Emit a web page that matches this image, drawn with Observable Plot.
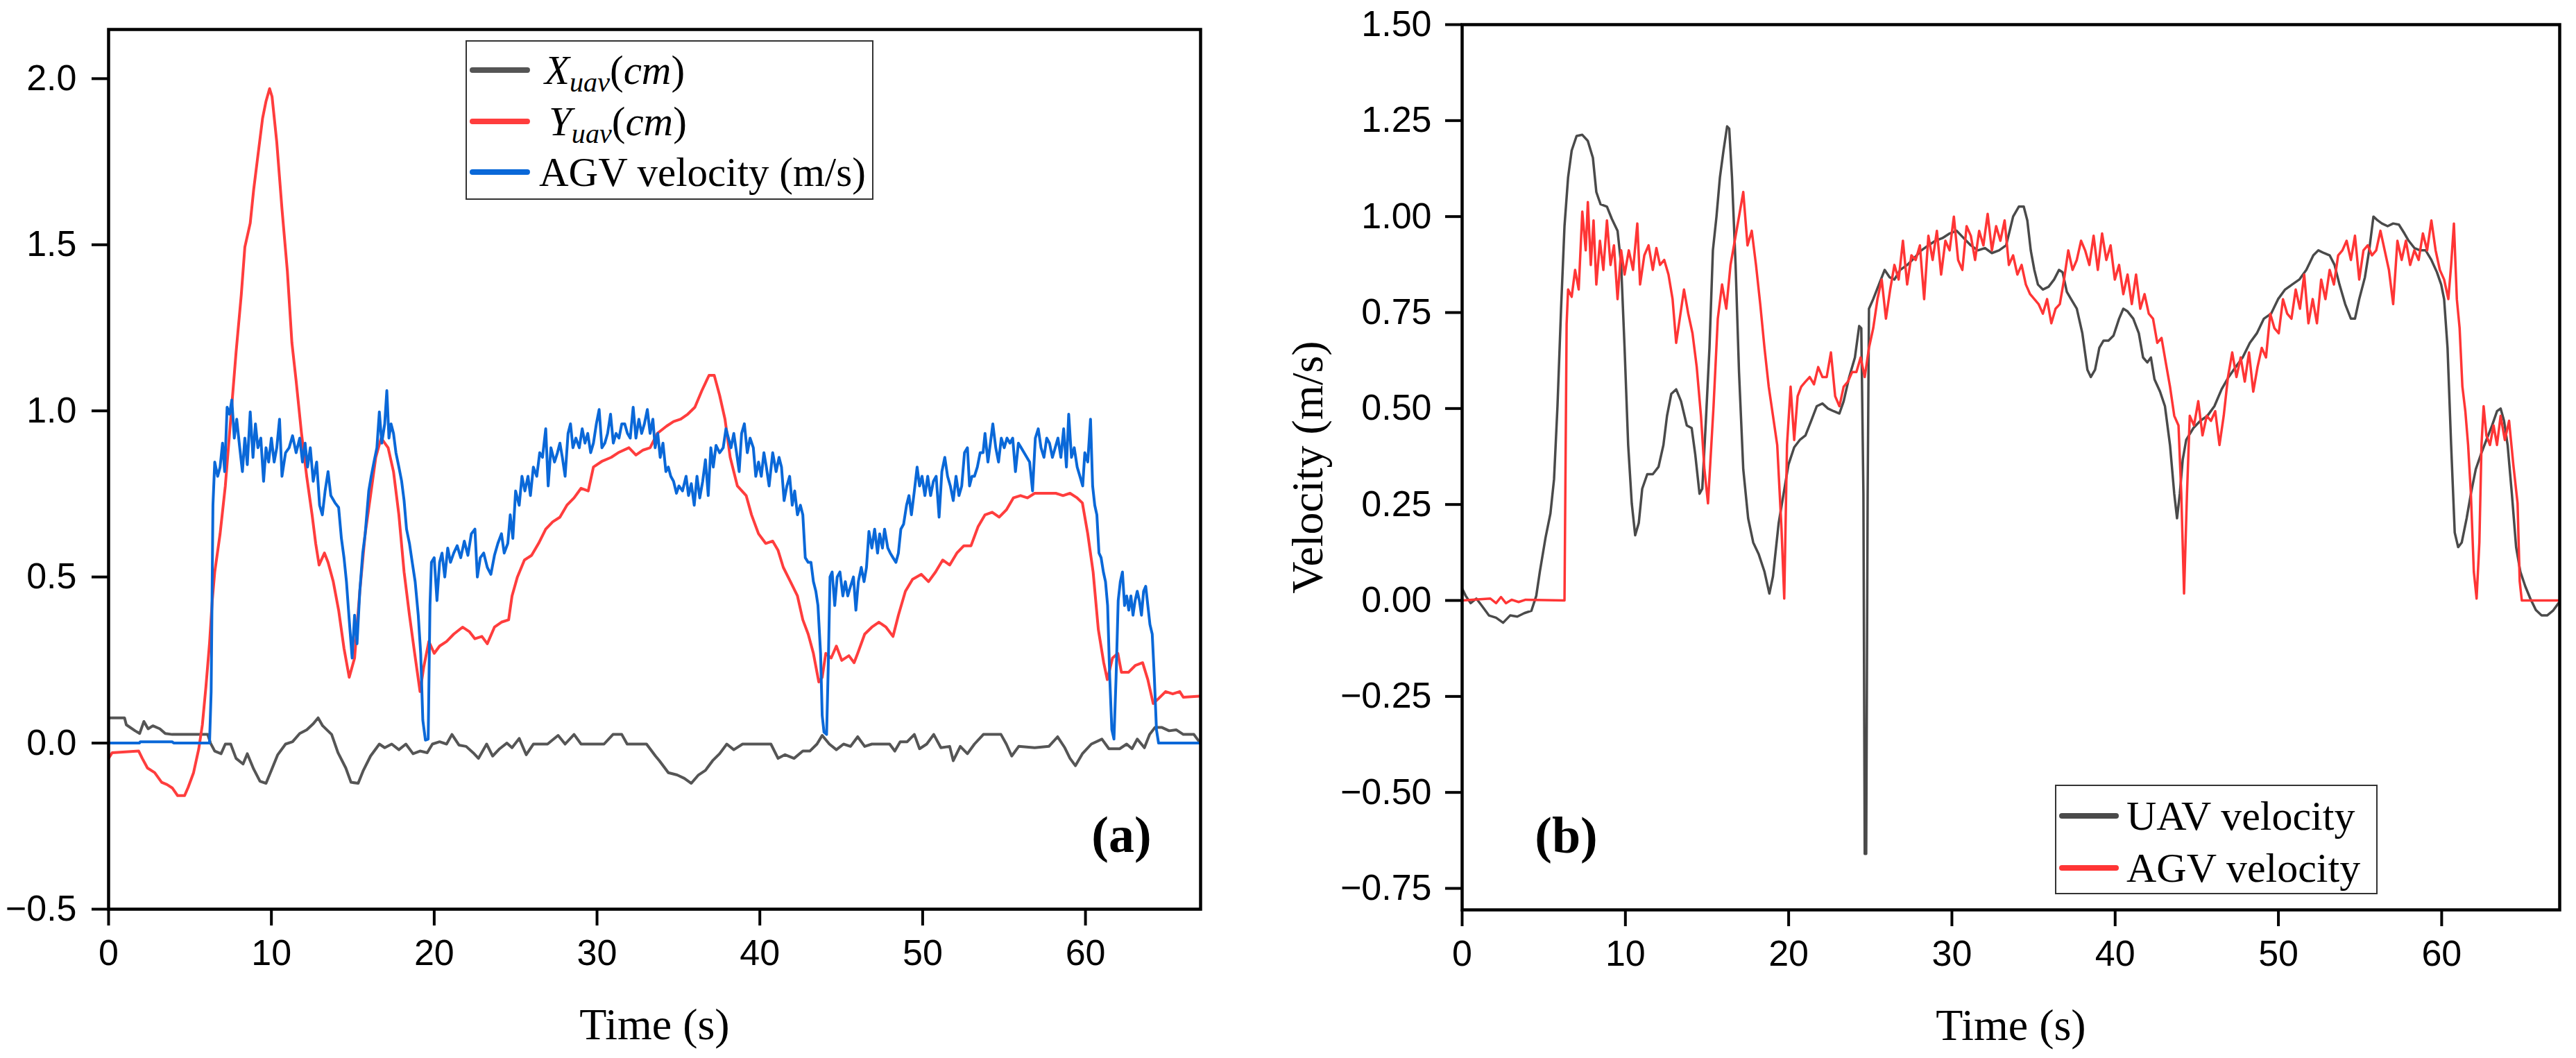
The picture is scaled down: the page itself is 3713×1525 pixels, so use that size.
<!DOCTYPE html>
<html>
<head>
<meta charset="utf-8">
<script src="https://cdn.jsdelivr.net/npm/d3@7"></script>
<script src="https://cdn.jsdelivr.net/npm/@observablehq/plot@0.6"></script>
<style>
  html, body { margin: 0; padding: 0; background: #ffffff; }
  #page { position: relative; width: 3713px; height: 1525px; background: #ffffff; overflow: hidden; }
  .panel { position: absolute; top: 0; }
  .legend { position: absolute; border: 2px solid #333; background: #fff; box-sizing: border-box; font-family: "Liberation Serif", "Times New Roman", serif; color: #000; }
  .row { position: absolute; left: 0; right: 0; height: 70px; }
  .swatch { position: absolute; height: 8px; border-radius: 4px; top: 31px; }
  .lbl { position: absolute; top: 0; height: 70px; line-height: 70px; white-space: nowrap; }
  .lbl sub { font-size: 0.68em; vertical-align: -0.28em; line-height: 0; }
</style>
</head>
<body>
<div id="page">
  <div id="panelA" class="panel" style="left:0px;width:1856px;"></div>
  <div id="panelB" class="panel" style="left:1856px;width:1857px;"></div>
</div>
<script>
// ---------- tick values ----------
const timeTicks = [0, 10, 20, 30, 40, 50, 60];
const yTicksA = [-0.5, 0, 0.5, 1.0, 1.5, 2.0];
const yTicksB = [-0.75, -0.5, -0.25, 0, 0.25, 0.5, 0.75, 1.0, 1.25, 1.5];

// ---------- legend entries ----------
const seriesNamesA = ["X_uav(cm)", "Y_uav(cm)", "AGV velocity (m/s)"];
const seriesColorsA = ["#555555", "#ff3d3d", "#0a68d8"];
const seriesNamesB = ["UAV velocity", "AGV velocity"];
const seriesColorsB = ["#4a4a4a", "#ff3535"];

// ---------- panel (a): [time s, value] ----------
const xUav = [[0,0.076],[0.98,0.076],[1.09,0.055],[1.63,0.037],[1.91,0.029],[2.17,0.065],[2.43,0.043],[2.72,0.052],[3.15,0.043],[3.48,0.029],[3.91,0.026],[6.09,0.026],[6.26,0],[6.52,-0.024],[6.91,-0.032],[7.17,-0.003],[7.5,-0.003],[7.83,-0.046],[8.26,-0.063],[8.52,-0.032],[8.91,-0.078],[9.3,-0.115],[9.67,-0.121],[10.0,-0.082],[10.39,-0.035],[10.87,-0.003],[11.3,0.004],[11.74,0.029],[12.17,0.04],[12.57,0.058],[12.87,0.076],[13.15,0.052],[13.7,0.026],[14.09,-0.029],[14.57,-0.075],[14.89,-0.118],[15.33,-0.121],[15.65,-0.082],[16.09,-0.039],[16.63,-0.003],[16.96,-0.014],[17.39,-0.003],[17.83,-0.02],[18.26,-0.003],[18.7,-0.032],[19.13,-0.024],[19.57,-0.029],[19.89,-0.003],[20.33,0.004],[20.76,-0.003],[21.09,0.026],[21.52,-0.006],[21.96,-0.01],[22.39,-0.029],[22.72,-0.046],[23.22,-0.003],[23.59,-0.039],[24.02,-0.017],[24.46,0],[24.78,-0.014],[25.22,0.014],[25.65,-0.035],[26.09,-0.003],[26.96,-0.003],[27.61,0.023],[28.04,-0.003],[28.59,0.026],[29.02,-0.003],[30.43,-0.003],[30.98,0.026],[31.52,0.026],[31.85,-0.003],[33.04,-0.003],[33.59,-0.039],[33.83,-0.053],[34.38,-0.089],[34.92,-0.096],[35.36,-0.106],[35.79,-0.121],[36.23,-0.096],[36.66,-0.082],[37.1,-0.053],[37.53,-0.032],[37.97,-0.003],[38.4,-0.02],[38.94,-0.003],[40.68,-0.003],[41.12,-0.046],[41.55,-0.035],[42.1,-0.046],[42.64,-0.024],[43.07,-0.024],[43.51,-0.003],[43.83,0.023],[44.27,-0.003],[44.7,-0.02],[45.14,-0.003],[45.57,-0.01],[46.01,0.019],[46.44,-0.01],[46.88,-0.003],[47.97,-0.003],[48.29,-0.024],[48.62,0.004],[49.05,0.004],[49.49,0.026],[49.81,-0.017],[50.25,-0.003],[50.68,0.026],[51.12,-0.014],[51.66,-0.01],[51.88,-0.053],[52.31,-0.01],[52.75,-0.032],[53.18,-0.003],[53.73,0.026],[54.81,0.026],[55.14,-0.003],[55.47,-0.039],[55.9,-0.01],[56.88,-0.014],[57.75,-0.01],[58.29,0.019],[58.73,-0.014],[59.05,-0.046],[59.38,-0.068],[59.81,-0.032],[60.36,-0.003],[61.01,0.012],[61.44,-0.017],[62.1,-0.017],[62.53,-0.003],[62.86,-0.017],[63.18,0.012],[63.62,-0.014],[63.94,0.026],[64.27,0.047],[64.7,0.047],[65.14,0.037],[65.57,0.04],[66.01,0.026],[66.66,0.026],[66.99,0.004]];

const yUav = [[0,-0.046],[0.22,-0.029],[1.85,-0.024],[2.07,-0.046],[2.39,-0.075],[2.83,-0.089],[3.26,-0.118],[3.59,-0.125],[3.91,-0.135],[4.24,-0.158],[4.67,-0.158],[4.89,-0.133],[5.22,-0.089],[5.54,-0.017],[5.76,0.055],[5.98,0.17],[6.2,0.3],[6.37,0.43],[6.52,0.515],[6.85,0.63],[7.17,0.774],[7.5,0.975],[7.83,1.176],[8.15,1.349],[8.37,1.493],[8.7,1.565],[8.91,1.665],[9.13,1.752],[9.46,1.881],[9.67,1.932],[9.89,1.97],[10.04,1.946],[10.33,1.809],[10.65,1.608],[10.98,1.421],[11.26,1.205],[11.52,1.09],[11.85,0.932],[12.17,0.802],[12.5,0.687],[12.72,0.601],[12.93,0.536],[13.26,0.572],[13.48,0.544],[13.8,0.486],[14.13,0.4],[14.46,0.285],[14.78,0.198],[15.11,0.256],[15.43,0.457],[15.76,0.63],[16.09,0.745],[16.41,0.86],[16.74,0.918],[17.17,0.889],[17.5,0.817],[17.83,0.687],[18.15,0.515],[18.48,0.385],[18.8,0.27],[19.13,0.155],[19.35,0.227],[19.67,0.306],[20.0,0.27],[20.33,0.292],[20.76,0.306],[21.2,0.328],[21.74,0.349],[22.17,0.335],[22.5,0.314],[22.93,0.321],[23.26,0.299],[23.7,0.349],[24.13,0.364],[24.57,0.371],[24.78,0.443],[25.11,0.5],[25.54,0.551],[25.98,0.565],[26.41,0.601],[26.85,0.644],[27.28,0.666],[27.72,0.68],[28.15,0.716],[28.59,0.738],[29.02,0.767],[29.46,0.759],[29.78,0.831],[30.33,0.849],[30.87,0.86],[31.3,0.874],[31.96,0.889],[32.39,0.867],[32.83,0.882],[33.26,0.889],[33.7,0.932],[34.27,0.954],[34.7,0.968],[35.14,0.975],[35.57,0.99],[36.01,1.011],[36.44,1.061],[36.88,1.107],[37.2,1.107],[37.53,1.047],[37.86,0.975],[38.18,0.86],[38.62,0.774],[39.16,0.745],[39.49,0.687],[39.92,0.63],[40.36,0.601],[40.79,0.608],[41.12,0.58],[41.44,0.529],[41.88,0.486],[42.31,0.443],[42.64,0.371],[42.97,0.328],[43.29,0.27],[43.62,0.184],[43.83,0.198],[44.05,0.27],[44.38,0.256],[44.7,0.292],[45.03,0.249],[45.47,0.263],[45.79,0.242],[46.01,0.27],[46.44,0.328],[46.88,0.349],[47.31,0.364],[47.75,0.349],[48.18,0.321],[48.51,0.385],[48.94,0.457],[49.38,0.493],[49.92,0.508],[50.36,0.486],[50.79,0.515],[51.23,0.551],[51.66,0.536],[52.1,0.572],[52.53,0.594],[52.97,0.594],[53.4,0.651],[53.83,0.687],[54.27,0.695],[54.7,0.68],[55.14,0.702],[55.57,0.738],[56.01,0.745],[56.44,0.738],[56.88,0.752],[57.31,0.752],[57.75,0.752],[58.18,0.752],[58.62,0.745],[59.05,0.752],[59.49,0.738],[59.81,0.723],[60.14,0.63],[60.47,0.515],[60.79,0.342],[61.12,0.242],[61.34,0.191],[61.66,0.256],[61.99,0.27],[62.21,0.213],[62.64,0.213],[63.07,0.234],[63.51,0.242],[63.83,0.191],[64.16,0.119],[64.49,0.134],[64.92,0.155],[65.36,0.148],[65.79,0.155],[66.01,0.138],[66.99,0.141]];

const agvA = [[0,0],[1.9,0],[1.95,0.004],[3.9,0.004],[4.0,0],[6.2,0],[6.3,0.155],[6.41,0.716],[6.52,0.846],[6.7,0.803],[6.85,0.831],[7.0,0.903],[7.13,0.817],[7.28,1.011],[7.43,0.99],[7.57,1.033],[7.72,0.918],[7.87,0.975],[8.04,0.896],[8.22,0.817],[8.37,0.918],[8.52,0.838],[8.7,0.997],[8.87,0.86],[9.02,0.961],[9.17,0.889],[9.35,0.918],[9.52,0.788],[9.67,0.889],[9.83,0.846],[10.0,0.918],[10.17,0.846],[10.33,0.889],[10.5,0.975],[10.65,0.803],[10.87,0.874],[11.09,0.889],[11.3,0.925],[11.52,0.874],[11.74,0.918],[11.91,0.846],[12.07,0.903],[12.22,0.831],[12.39,0.889],[12.57,0.788],[12.78,0.846],[12.96,0.716],[13.13,0.687],[13.3,0.759],[13.48,0.817],[13.65,0.745],[13.91,0.723],[14.13,0.709],[14.3,0.616],[14.46,0.558],[14.61,0.486],[14.78,0.371],[14.96,0.256],[15.11,0.385],[15.26,0.299],[15.43,0.457],[15.61,0.572],[15.76,0.63],[15.98,0.759],[16.13,0.803],[16.3,0.846],[16.48,0.889],[16.63,0.997],[16.78,0.903],[16.96,0.961],[17.09,1.061],[17.22,0.918],[17.35,0.961],[17.5,0.932],[17.65,0.874],[17.83,0.831],[18.0,0.788],[18.15,0.73],[18.3,0.644],[18.48,0.601],[18.65,0.544],[18.83,0.486],[19.02,0.385],[19.17,0.27],[19.3,0.069],[19.46,0.009],[19.63,0.012],[19.74,0.414],[19.83,0.544],[20.0,0.558],[20.17,0.429],[20.33,0.544],[20.48,0.572],[20.65,0.5],[20.83,0.587],[21.0,0.544],[21.2,0.572],[21.41,0.594],[21.63,0.558],[21.85,0.608],[22.07,0.565],[22.28,0.63],[22.5,0.644],[22.65,0.5],[22.83,0.558],[23.04,0.572],[23.26,0.529],[23.48,0.508],[23.7,0.565],[23.91,0.601],[24.13,0.63],[24.3,0.572],[24.52,0.601],[24.67,0.687],[24.83,0.616],[25.0,0.759],[25.22,0.716],[25.39,0.803],[25.57,0.759],[25.76,0.803],[25.91,0.745],[26.09,0.831],[26.3,0.803],[26.48,0.874],[26.65,0.86],[26.85,0.946],[27.0,0.774],[27.17,0.889],[27.39,0.846],[27.57,0.874],[27.72,0.903],[27.87,0.86],[28.04,0.803],[28.22,0.932],[28.37,0.961],[28.52,0.889],[28.7,0.918],[28.91,0.889],[29.09,0.946],[29.26,0.903],[29.43,0.932],[29.61,0.874],[29.78,0.903],[29.96,0.961],[30.13,1.004],[30.3,0.889],[30.48,0.903],[30.65,0.932],[30.83,0.99],[31.0,0.903],[31.17,0.932],[31.35,0.918],[31.52,0.961],[31.7,0.961],[31.87,0.932],[32.04,0.918],[32.22,1.011],[32.39,0.918],[32.57,0.975],[32.74,0.932],[32.91,0.961],[33.09,1.004],[33.26,0.932],[33.43,0.975],[33.57,0.889],[33.73,0.932],[33.88,0.86],[34.05,0.903],[34.23,0.817],[34.38,0.831],[34.53,0.803],[34.7,0.788],[34.88,0.752],[35.03,0.774],[35.25,0.759],[35.47,0.803],[35.62,0.745],[35.79,0.781],[35.97,0.716],[36.14,0.803],[36.31,0.738],[36.49,0.788],[36.66,0.853],[36.83,0.745],[36.99,0.889],[37.14,0.831],[37.31,0.896],[37.53,0.874],[37.75,0.889],[37.92,0.946],[38.07,0.918],[38.23,0.889],[38.4,0.932],[38.57,0.874],[38.73,0.817],[38.88,0.932],[39.05,0.961],[39.23,0.874],[39.4,0.918],[39.6,0.889],[39.75,0.803],[39.92,0.846],[40.09,0.803],[40.25,0.874],[40.4,0.831],[40.57,0.774],[40.79,0.874],[41.0,0.817],[41.18,0.86],[41.33,0.831],[41.49,0.73],[41.66,0.774],[41.83,0.803],[41.99,0.716],[42.14,0.759],[42.31,0.687],[42.49,0.716],[42.64,0.687],[42.79,0.558],[42.97,0.544],[43.14,0.544],[43.29,0.486],[43.44,0.457],[43.57,0.414],[43.73,0.27],[43.83,0.083],[43.94,0.033],[44.1,0.026],[44.2,0.227],[44.31,0.5],[44.44,0.515],[44.6,0.414],[44.75,0.5],[44.92,0.515],[45.1,0.443],[45.25,0.486],[45.4,0.443],[45.57,0.472],[45.75,0.5],[45.9,0.4],[46.05,0.486],[46.23,0.529],[46.4,0.486],[46.55,0.529],[46.7,0.637],[46.88,0.587],[47.05,0.644],[47.23,0.572],[47.36,0.63],[47.53,0.587],[47.66,0.644],[47.86,0.587],[48.01,0.572],[48.18,0.558],[48.36,0.544],[48.51,0.572],[48.66,0.644],[48.83,0.659],[49.01,0.716],[49.16,0.745],[49.31,0.687],[49.49,0.759],[49.66,0.831],[49.81,0.774],[49.96,0.803],[50.14,0.745],[50.31,0.803],[50.49,0.745],[50.66,0.788],[50.83,0.803],[51.01,0.68],[51.18,0.817],[51.36,0.86],[51.53,0.803],[51.7,0.774],[51.88,0.73],[52.05,0.803],[52.23,0.745],[52.4,0.774],[52.57,0.874],[52.75,0.889],[52.88,0.774],[53.03,0.803],[53.18,0.803],[53.36,0.831],[53.53,0.874],[53.71,0.874],[53.83,0.932],[54.01,0.846],[54.16,0.903],[54.31,0.961],[54.49,0.889],[54.66,0.846],[54.83,0.918],[55.01,0.889],[55.18,0.918],[55.36,0.903],[55.53,0.918],[55.7,0.817],[55.88,0.903],[56.05,0.889],[56.23,0.874],[56.4,0.86],[56.57,0.846],[56.75,0.759],[56.92,0.918],[57.1,0.946],[57.27,0.889],[57.45,0.86],[57.62,0.918],[57.79,0.903],[57.97,0.86],[58.14,0.889],[58.31,0.918],[58.49,0.86],[58.66,0.946],[58.83,0.831],[58.97,0.99],[59.14,0.86],[59.31,0.889],[59.49,0.831],[59.66,0.803],[59.83,0.774],[59.96,0.874],[60.14,0.846],[60.31,0.975],[60.44,0.774],[60.57,0.716],[60.7,0.687],[60.83,0.572],[60.96,0.558],[61.1,0.515],[61.23,0.486],[61.36,0.414],[61.49,0.198],[61.62,0.04],[61.75,0.012],[61.88,0.198],[62.01,0.429],[62.14,0.486],[62.27,0.515],[62.4,0.414],[62.53,0.443],[62.66,0.4],[62.79,0.443],[62.92,0.385],[63.05,0.429],[63.18,0.457],[63.31,0.429],[63.44,0.385],[63.57,0.457],[63.7,0.472],[63.83,0.414],[63.96,0.357],[64.1,0.328],[64.23,0.198],[64.36,0.04],[64.49,0],[66.99,0]];

// ---------- panel (b): [time s, velocity m/s] ----------
const uavVel = [[0,0.031],[0.22,0.012],[0.52,-0.007],[0.87,0.005],[1.21,-0.014],[1.64,-0.039],[2.08,-0.045],[2.51,-0.058],[2.94,-0.039],[3.38,-0.042],[3.81,-0.033],[4.24,-0.027],[4.54,0.012],[4.76,0.075],[5.11,0.164],[5.41,0.227],[5.63,0.316],[5.84,0.506],[6.06,0.76],[6.27,0.975],[6.49,1.102],[6.71,1.172],[7.01,1.21],[7.36,1.213],[7.7,1.197],[8.01,1.153],[8.22,1.064],[8.48,1.032],[8.87,1.026],[9.17,0.994],[9.52,0.963],[9.74,0.874],[9.95,0.658],[10.17,0.405],[10.39,0.253],[10.6,0.17],[10.82,0.202],[11.03,0.291],[11.34,0.329],[11.68,0.329],[12.03,0.348],[12.33,0.405],[12.55,0.481],[12.81,0.538],[13.11,0.55],[13.41,0.519],[13.76,0.456],[14.06,0.449],[14.28,0.38],[14.54,0.278],[14.71,0.291],[14.93,0.468],[15.15,0.658],[15.36,0.912],[15.58,1.0],[15.79,1.102],[16.01,1.172],[16.23,1.235],[16.36,1.229],[16.53,1.102],[16.75,0.874],[16.96,0.595],[17.22,0.342],[17.52,0.214],[17.83,0.151],[18.17,0.12],[18.52,0.075],[18.82,0.018],[19.04,0.063],[19.39,0.202],[19.69,0.278],[19.99,0.354],[20.34,0.399],[20.68,0.418],[21.03,0.43],[21.38,0.468],[21.72,0.506],[22.07,0.513],[22.41,0.5],[22.76,0.493],[23.11,0.487],[23.37,0.519],[23.71,0.582],[24.06,0.633],[24.32,0.715],[24.45,0.709],[24.58,0.278],[24.66,-0.66],[24.75,-0.66],[24.84,0.278],[24.92,0.76],[25.18,0.785],[25.53,0.823],[25.88,0.861],[26.18,0.842],[26.48,0.836],[26.83,0.861],[27.26,0.874],[27.69,0.892],[28.13,0.912],[28.56,0.925],[28.99,0.937],[29.42,0.944],[29.86,0.956],[30.29,0.963],[30.72,0.944],[31.16,0.925],[31.59,0.912],[32.02,0.918],[32.45,0.905],[32.89,0.912],[33.32,0.925],[33.54,0.963],[33.75,1.0],[34.1,1.026],[34.4,1.026],[34.62,0.99],[34.83,0.912],[35.05,0.861],[35.27,0.823],[35.57,0.81],[35.92,0.817],[36.26,0.836],[36.56,0.861],[36.78,0.855],[37.04,0.804],[37.3,0.785],[37.65,0.76],[37.99,0.696],[38.3,0.601],[38.51,0.582],[38.77,0.601],[39.03,0.658],[39.29,0.677],[39.59,0.677],[39.9,0.69],[40.24,0.734],[40.5,0.76],[40.76,0.753],[41.11,0.734],[41.45,0.696],[41.71,0.633],[41.97,0.62],[42.19,0.633],[42.41,0.576],[42.75,0.544],[43.05,0.506],[43.36,0.405],[43.62,0.278],[43.79,0.214],[43.96,0.278],[44.14,0.367],[44.35,0.418],[44.79,0.449],[45.22,0.468],[45.65,0.481],[46.08,0.506],[46.52,0.55],[46.95,0.582],[47.38,0.608],[47.81,0.633],[48.25,0.671],[48.68,0.696],[49.11,0.734],[49.55,0.747],[49.98,0.785],[50.41,0.81],[50.84,0.823],[51.28,0.836],[51.71,0.861],[52.14,0.899],[52.45,0.912],[52.79,0.905],[53.14,0.899],[53.44,0.874],[53.74,0.823],[54.09,0.772],[54.44,0.734],[54.69,0.734],[54.95,0.785],[55.3,0.842],[55.56,0.912],[55.82,1.0],[56.08,0.99],[56.34,0.982],[56.69,0.975],[57.03,0.982],[57.38,0.979],[57.72,0.956],[57.98,0.937],[58.33,0.918],[58.68,0.912],[59.02,0.912],[59.37,0.887],[59.71,0.855],[59.97,0.823],[60.15,0.785],[60.36,0.658],[60.58,0.405],[60.8,0.177],[61.01,0.139],[61.23,0.151],[61.53,0.214],[61.79,0.278],[62.09,0.342],[62.4,0.38],[62.74,0.418],[63.09,0.456],[63.39,0.493],[63.61,0.5],[63.82,0.468],[64.04,0.405],[64.3,0.278],[64.56,0.139],[64.82,0.075],[65.12,0.037],[65.43,0.005],[65.77,-0.025],[66.12,-0.039],[66.46,-0.039],[66.81,-0.027],[67.16,-0.007]];

const agvVel = [[0,0],[1.73,0.005],[2.08,-0.007],[2.38,0.009],[2.68,-0.007],[3.03,0.002],[3.46,-0.004],[3.89,0.002],[6.27,0],[6.4,0.72],[6.49,0.81],[6.71,0.791],[6.92,0.861],[7.14,0.81],[7.36,1.013],[7.57,0.912],[7.7,1.038],[7.88,0.874],[8.05,0.99],[8.22,0.823],[8.44,0.937],[8.65,0.861],[8.87,0.99],[9.09,0.874],[9.3,0.925],[9.52,0.785],[9.74,0.912],[9.95,0.849],[10.21,0.912],[10.47,0.861],[10.73,0.982],[10.9,0.823],[11.16,0.899],[11.42,0.925],[11.68,0.861],[11.9,0.918],[12.12,0.874],[12.38,0.887],[12.64,0.849],[12.89,0.785],[13.11,0.671],[13.33,0.734],[13.59,0.81],[13.85,0.747],[14.11,0.696],[14.37,0.608],[14.63,0.481],[14.84,0.342],[15.06,0.253],[15.23,0.38],[15.4,0.506],[15.66,0.734],[15.92,0.823],[16.18,0.76],[16.44,0.874],[16.7,0.937],[16.96,1.0],[17.22,1.064],[17.48,0.925],[17.74,0.963],[18.0,0.874],[18.26,0.772],[18.52,0.658],[18.78,0.557],[19.04,0.481],[19.3,0.405],[19.56,0.189],[19.73,0.005],[19.9,0.405],[20.12,0.557],[20.34,0.418],[20.55,0.532],[20.77,0.557],[21.03,0.57],[21.29,0.582],[21.55,0.563],[21.81,0.608],[22.07,0.582],[22.33,0.582],[22.59,0.646],[22.85,0.532],[23.11,0.506],[23.37,0.557],[23.63,0.57],[23.89,0.595],[24.15,0.595],[24.41,0.633],[24.66,0.582],[24.92,0.658],[25.18,0.709],[25.44,0.785],[25.7,0.836],[25.96,0.734],[26.22,0.81],[26.48,0.874],[26.74,0.836],[27.0,0.937],[27.26,0.823],[27.52,0.899],[27.78,0.887],[28.04,0.925],[28.3,0.785],[28.56,0.95],[28.82,0.887],[29.08,0.963],[29.34,0.849],[29.6,0.937],[29.86,0.912],[30.12,1.0],[30.38,0.887],[30.64,0.861],[30.9,0.975],[31.16,0.95],[31.42,0.887],[31.67,0.963],[31.93,0.925],[32.19,1.007],[32.45,0.912],[32.71,0.975],[32.97,0.937],[33.23,0.99],[33.49,0.874],[33.75,0.899],[34.01,0.849],[34.27,0.874],[34.53,0.823],[34.79,0.798],[35.05,0.785],[35.31,0.772],[35.57,0.747],[35.83,0.785],[36.09,0.722],[36.35,0.76],[36.61,0.772],[36.87,0.836],[37.13,0.912],[37.39,0.861],[37.65,0.887],[37.91,0.937],[38.16,0.912],[38.42,0.874],[38.68,0.95],[38.94,0.861],[39.2,0.956],[39.46,0.887],[39.72,0.925],[39.98,0.836],[40.24,0.874],[40.5,0.798],[40.76,0.849],[41.02,0.772],[41.28,0.849],[41.54,0.76],[41.8,0.798],[42.06,0.747],[42.32,0.734],[42.58,0.671],[42.84,0.684],[43.1,0.62],[43.36,0.557],[43.62,0.481],[43.88,0.456],[44.05,0.278],[44.22,0.018],[44.4,0.278],[44.57,0.481],[44.83,0.456],[45.09,0.519],[45.35,0.43],[45.61,0.481],[45.87,0.468],[46.13,0.493],[46.39,0.405],[46.65,0.481],[46.91,0.582],[47.17,0.646],[47.43,0.582],[47.69,0.633],[47.94,0.57],[48.2,0.646],[48.46,0.544],[48.72,0.608],[48.98,0.658],[49.24,0.633],[49.5,0.747],[49.76,0.709],[50.02,0.696],[50.28,0.785],[50.54,0.747],[50.8,0.734],[51.06,0.81],[51.32,0.76],[51.58,0.849],[51.84,0.722],[52.1,0.785],[52.36,0.722],[52.62,0.836],[52.88,0.785],[53.14,0.861],[53.4,0.823],[53.66,0.899],[53.92,0.912],[54.18,0.937],[54.44,0.887],[54.69,0.95],[54.95,0.836],[55.21,0.912],[55.47,0.925],[55.73,0.899],[55.99,0.912],[56.25,0.963],[56.51,0.912],[56.77,0.861],[57.03,0.772],[57.29,0.937],[57.55,0.887],[57.81,0.937],[58.07,0.874],[58.33,0.912],[58.59,0.887],[58.85,0.956],[59.11,0.912],[59.37,0.99],[59.63,0.912],[59.89,0.861],[60.15,0.836],[60.41,0.785],[60.58,0.874],[60.75,0.982],[60.93,0.785],[61.1,0.709],[61.27,0.557],[61.45,0.493],[61.62,0.405],[61.79,0.278],[61.97,0.075],[62.14,0.005],[62.31,0.151],[62.44,0.405],[62.57,0.506],[62.74,0.43],[62.96,0.405],[63.18,0.456],[63.39,0.405],[63.61,0.481],[63.87,0.418],[64.13,0.468],[64.39,0.354],[64.65,0.253],[64.78,0.05],[64.91,0],[67.2,0]];

// ---------- common styling ----------
const SANS = "'Liberation Sans', Arial, Helvetica, sans-serif";
const SERIF = "'Liberation Serif', 'Times New Roman', Times, serif";
const axisStyle = {fontFamily: SANS, fontSize: "52px", color: "#000", background: "transparent", overflow: "visible"};
const T = d => d[0], V = d => d[1];

// ---------- panel (a) ----------
const plotA = Plot.plot({
  width: 1856, height: 1525,
  marginLeft: 156, marginRight: 126, marginTop: 42, marginBottom: 215,
  style: axisStyle,
  x: {domain: [0, 67.07], label: null},
  y: {domain: [-0.5, 2.148], label: null},
  marks: [
    Plot.line(xUav, {x: T, y: V, stroke: seriesColorsA[0], strokeWidth: 4, clip: true}),
    Plot.line(yUav, {x: T, y: V, stroke: seriesColorsA[1], strokeWidth: 4, clip: true}),
    Plot.line(agvA, {x: T, y: V, stroke: seriesColorsA[2], strokeWidth: 4, clip: true}),
    Plot.frame({stroke: "#000", strokeWidth: 4.5}),
    Plot.axisX({ticks: timeTicks, tickSize: 24, tickPadding: 20, tickFormat: d => String(d), strokeWidth: 4, label: null}),
    Plot.axisY({ticks: yTicksA, tickSize: 24, tickPadding: 22, tickFormat: d3.format(".1f"), strokeWidth: 4, label: null}),
    Plot.text(["Time (s)"], {text: d => d, frameAnchor: "bottom", dy: 167, lineAnchor: "middle", fontFamily: SERIF, fontSize: 64}),
    Plot.text(["(a)"], {text: d => d, frameAnchor: "bottom-right", dx: -114, dy: -106, textAnchor: "middle", lineAnchor: "middle", fontFamily: SERIF, fontSize: 74, fontWeight: "bold"})
  ]
});
document.getElementById("panelA").appendChild(plotA);

// ---------- panel (b) ----------
const plotB = Plot.plot({
  width: 1857, height: 1525,
  marginLeft: 251, marginRight: 24, marginTop: 35, marginBottom: 214,
  style: axisStyle,
  x: {domain: [0, 67.23], label: null},
  y: {domain: [-0.806, 1.5], label: null},
  marks: [
    Plot.line(uavVel, {x: T, y: V, stroke: seriesColorsB[0], strokeWidth: 3.5, clip: true}),
    Plot.line(agvVel, {x: T, y: V, stroke: seriesColorsB[1], strokeWidth: 3.5, clip: true}),
    Plot.frame({stroke: "#000", strokeWidth: 4.5}),
    Plot.axisX({ticks: timeTicks, tickSize: 24, tickPadding: 20, tickFormat: d => String(d), strokeWidth: 4, label: null}),
    Plot.axisY({ticks: yTicksB, tickSize: 24, tickPadding: 20, tickFormat: d3.format(".2f"), strokeWidth: 4, label: null}),
    Plot.text(["Time (s)"], {text: d => d, frameAnchor: "bottom", dy: 167, lineAnchor: "middle", fontFamily: SERIF, fontSize: 64}),
    Plot.text(["Velocity (m/s)"], {text: d => d, frameAnchor: "left", dx: -222, rotate: -90, textAnchor: "middle", lineAnchor: "middle", fontFamily: SERIF, fontSize: 64}),
    Plot.text(["(b)"], {text: d => d, frameAnchor: "bottom-left", dx: 150, dy: -106, textAnchor: "middle", lineAnchor: "middle", fontFamily: SERIF, fontSize: 74, fontWeight: "bold"})
  ]
});
document.getElementById("panelB").appendChild(plotB);

// ---------- legends (HTML overlays) ----------
function mathLabel(name) {
  const m = name.match(/^([A-Z])_(\w+)\((\w+)\)$/);
  if (!m) return name;
  return `<i>${m[1]}</i><sub><i>${m[2]}</i></sub>(<i>${m[3]}</i>)`;
}
function legend(names, colors, box, rowCenters, swatchLeft, swatchWidth, textLeft, fontSize) {
  const el = document.createElement("div");
  el.className = "legend";
  Object.assign(el.style, {left: box[0] + "px", top: box[1] + "px", width: box[2] + "px", height: box[3] + "px", fontSize: fontSize + "px"});
  names.forEach((n, i) => {
    const row = document.createElement("div");
    row.className = "row";
    row.style.top = (rowCenters[i] - 35) + "px";
    row.innerHTML = `<div class="swatch" style="left:${swatchLeft}px;width:${swatchWidth}px;background:${colors[i]}"></div>` +
                    `<div class="lbl" style="left:${textLeft[i]}px">${mathLabel(n)}</div>`;
    el.appendChild(row);
  });
  document.getElementById("page").appendChild(el);
}
legend(seriesNamesA, seriesColorsA, [671, 58, 588, 230], [41, 115, 188], 4, 87, [112, 118, 104], 59);
legend(seriesNamesB, seriesColorsB, [2962, 1131, 465, 158], [43, 118], 4, 86, [101, 101], 60);
</script>
</body>
</html>
